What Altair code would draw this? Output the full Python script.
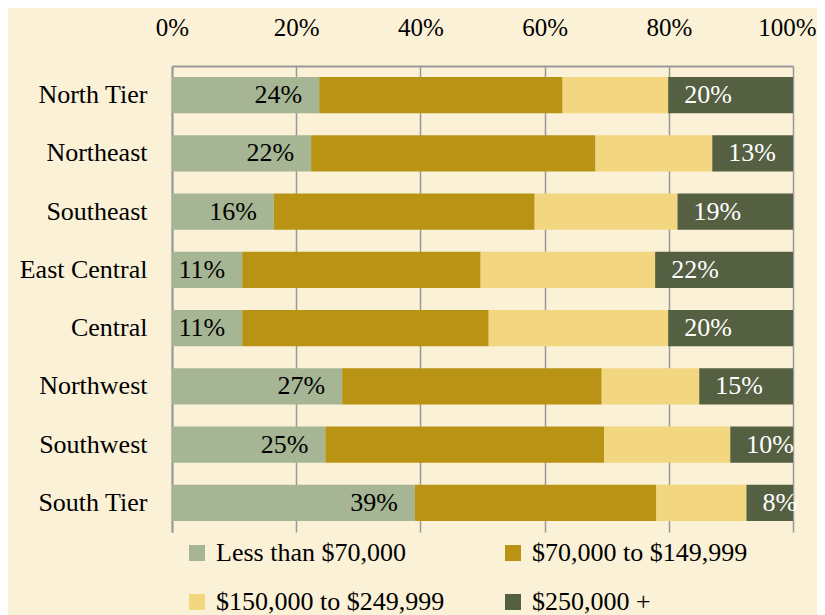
import altair as alt
import pandas as pd

regions = ["North Tier", "Northeast", "Southeast", "East Central", "Central",
           "Northwest", "Southwest", "South Tier"]
categories = ["Less than $70,000", "$70,000 to $149,999",
              "$150,000 to $249,999", "$250,000 +"]
less_70k = [23.7, 22.4, 16.4, 11.3, 11.3, 27.4, 24.7, 39.1]
k70_149 = [39.2, 45.8, 42.0, 38.4, 39.7, 41.8, 44.9, 38.9]
k150_249 = [17.0, 18.8, 23.0, 28.1, 28.9, 15.7, 20.3, 14.5]
k250_plus = [20.1, 13.0, 18.6, 22.2, 20.1, 15.1, 10.1, 7.5]
colors = ["#A6B594", "#B89314", "#F2D680", "#556042"]
x_ticks = [0, 20, 40, 60, 80, 100]

series = [less_70k, k70_149, k150_249, k250_plus]
rows = []
for ci, (cat, vals) in enumerate(zip(categories, series)):
    for r, v in zip(regions, vals):
        rows.append({"region": r, "category": cat, "order": ci, "value": v})
df = pd.DataFrame(rows)

FONT = "Liberation Serif"
BG = "#FAF1D6"
FS = 26

base = alt.Chart(df).transform_stack(
    stack="value", groupby=["region"], sort=[{"field": "order"}], as_=["x0", "x1"]
).transform_calculate(label="round(datum.value) + '%'")

y_enc = alt.Y("region:N", sort=regions, title=None,
              scale=alt.Scale(paddingInner=0.38, paddingOuter=0.19),
              axis=alt.Axis(domainColor="#999999", domainWidth=2, ticks=False,
                            labelPadding=25, labelFont=FONT, labelFontSize=FS,
                            labelColor="black"))

bars = base.mark_bar().encode(
    x=alt.X("x0:Q", title=None, scale=alt.Scale(domain=[0, 100], nice=False),
            axis=alt.Axis(orient="top", values=x_ticks, grid=True,
                          gridColor="#999999", gridWidth=1.5,
                          domainColor="#999999", domainWidth=2, ticks=False,
                          labelExpr="datum.value + '%'", labelFont=FONT,
                          labelFontSize=25, labelColor="black",
                          labelPadding=26, labelFlush=False,
                          labelOffset={"condition": {"test": "datum.value == 100",
                                                     "value": -6},
                                       "value": 0})),
    x2="x1:Q",
    y=y_enc,
    color=alt.Color("category:N", sort=categories,
                    scale=alt.Scale(domain=categories, range=colors),
                    legend=alt.Legend(title=None, orient="none", legendX=12,
                                      legendY=474, columns=2, direction="horizontal",
                                      columnPadding=55, rowPadding=23,
                                      symbolType="square", labelLimit=0,
                                      symbolSize=256, symbolStrokeWidth=0,
                                      labelFont=FONT, labelFontSize=FS,
                                      labelColor="black", labelOffset=6)),
    order=alt.Order("order:Q"),
)

left_labels = base.transform_filter("datum.order == 0").mark_text(
    align="right", baseline="middle", dx=-17, font=FONT, fontSize=FS, color="black"
).encode(x="x1:Q", y=alt.Y("region:N", sort=regions), text="label:N")

right_labels = base.transform_filter("datum.order == 3").mark_text(
    align="left", baseline="middle", dx=16, font=FONT, fontSize=FS, color="white"
).encode(x="x0:Q", y=alt.Y("region:N", sort=regions), text="label:N")

chart = alt.layer(bars, left_labels, right_labels).properties(
    width=621, height=466, background=BG,
    autosize=alt.AutoSizeParams(type="none"),
    padding={"left": 164, "top": 58, "right": 24, "bottom": 83},
).configure_view(stroke=None, fill=BG)

chart.save("out.html", embed_options={"renderer": "svg", "actions": False})
